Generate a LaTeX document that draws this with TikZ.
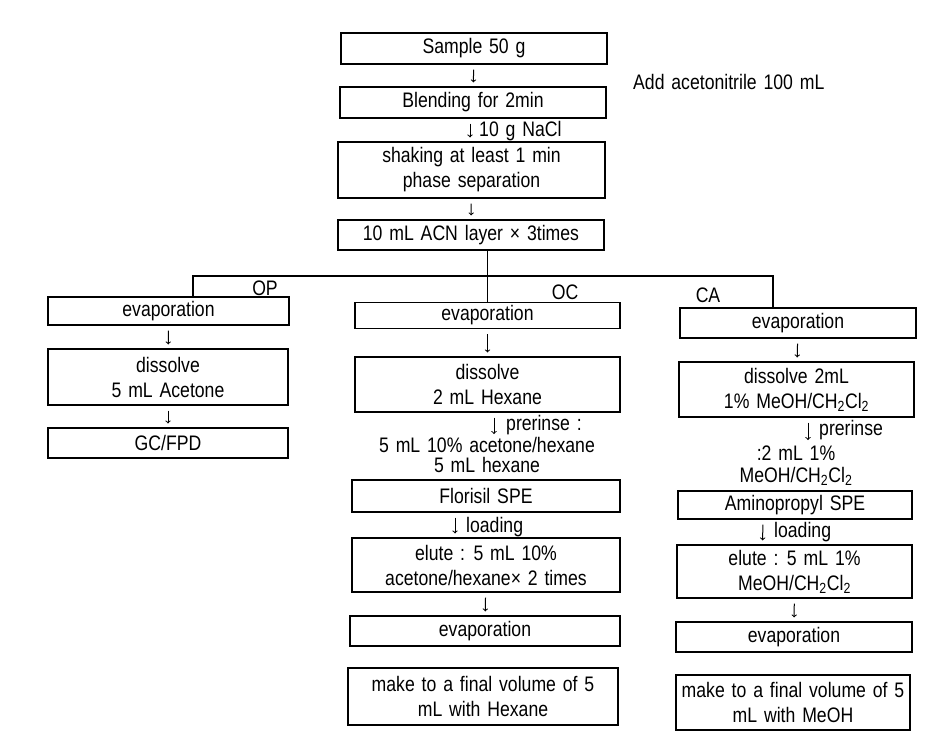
\documentclass[tikz,border=0pt]{standalone}
\usepackage{fontspec}
\setmainfont{Liberation Sans}[FakeStretch=0.84,WordSpace=1.4]
\usetikzlibrary{calc}

\begin{document}
\begin{tikzpicture}[x=1pt,y=-1pt]

                \tikzstyle{stage} = [draw, line width=1.2pt, align=center, inner sep=1pt, font=\fontsize{21}{25}\selectfont]
                \tikzstyle{note}  = [inner sep=1pt, align=center, font=\fontsize{21}{22}\selectfont]
                \tikzstyle{arr}   = [->, line width=1pt, shorten <=5pt, shorten >=4pt]
                \useasboundingbox (0,0) rectangle (947,753);
                \node [stage, minimum width=266, minimum height=31](sample) at (474,48.5) {Sample 50 g};
                \node [stage, minimum width=266, minimum height=31](blend) at (473,102.5) {Blending for 2min};
                \node [stage, minimum width=267, minimum height=56](shake) at (471.5,170) {shaking at least 1 min\\phase separation};
                \node [stage, minimum width=266, minimum height=30](acn) at (471,235) {10 mL ACN layer × 3times};
                \node [note, anchor=west](acetonitrile) at (632,82) {Add acetonitrile 100 mL};
                \node [note, anchor=west](nacl) at (478,131) {10 g NaCl};
                \node [stage, minimum width=241, minimum height=28](op-evap) at (168.5,311) {evaporation};
                \node [stage, minimum width=240, minimum height=56](op-dis) at (168,377) {dissolve\\5 mL Acetone};
                \node [stage, minimum width=240, minimum height=30](op-gc) at (168,443) {GC/FPD};
                \node [stage, minimum width=265, minimum height=26](oc-evap) at (487.5,315.5) {evaporation};
                \node [stage, minimum width=265, minimum height=55](oc-dis) at (487.5,384.5) {dissolve\\2 mL Hexane};
                \node [note, anchor=west](oc-pre) at (505,425) {prerinse :};
                \node [note, font=\fontsize{21}{20}\selectfont](oc-rinse) at (487,455) {5 mL 10\% acetone/hexane\\5 mL hexane};
                \node [stage, minimum width=268, minimum height=32](oc-spe) at (486,496) {Florisil SPE};
                \node [note, anchor=west](oc-load) at (465,527) {loading};
                \node [stage, minimum width=268, minimum height=54](oc-elute) at (486,565) {elute : 5 mL 10\%\\acetone/hexane× 2 times};
                \node [stage, minimum width=270, minimum height=30](oc-evap2) at (485,631) {evaporation};
                \node [stage, minimum width=270, minimum height=57](oc-final) at (483,696.5) {make to a final volume of 5\\mL with Hexane};
                \node [stage, minimum width=236, minimum height=30](ca-evap) at (798,323) {evaporation};
                \node [stage, minimum width=235, minimum height=55](ca-dis) at (796.5,389.5) {dissolve 2mL\\1\% MeOH/CH\textsubscript{2}Cl\textsubscript{2}};
                \node [note, anchor=west](ca-pre) at (818,430) {prerinse};
                \node [note](ca-rinse) at (796,466) {:2 mL 1\%\\MeOH/CH\textsubscript{2}Cl\textsubscript{2}};
                \node [stage, minimum width=234, minimum height=28](ca-spe) at (795,505) {Aminopropyl SPE};
                \node [note, anchor=west](ca-load) at (773,532) {loading};
                \node [stage, minimum width=235, minimum height=53](ca-elute) at (794.5,571.5) {elute : 5 mL 1\%\\MeOH/CH\textsubscript{2}Cl\textsubscript{2}};
                \node [stage, minimum width=236, minimum height=30](ca-evap2) at (794,637) {evaporation};
                \node [stage, minimum width=234, minimum height=55](ca-final) at (793,702.5) {make to a final volume of 5\\mL with MeOH};
                \node [note](op) at (265,288) {OP};
                \node [note](oc) at (565,292) {OC};
                \node [note](ca) at (708,295) {CA};
                \coordinate (op-top) at (193,276);
                \coordinate (ca-top) at (773,276);
                \coordinate (oc-tip) at (494,434);
                \coordinate (ca-tip) at (808,440);
                \draw [arr] (sample) -- (blend);
                \draw [arr] ([xshift=-3]blend.south) -- ([xshift=-1.5]shake.north);
                \draw [arr] (shake) -- (acn);
                \draw [line width=1.2pt] (acn.south -| oc-evap.north) -- (oc-evap.north);
                \draw [line width=1.2pt] (op-evap.north -| op-top) -- (op-top) -- (ca-top) -- (ca-evap.north -| ca-top);
                \draw [arr] (op-evap) -- (op-dis);
                \draw [arr] (op-dis) -- (op-gc);
                \draw [arr] (oc-evap) -- (oc-dis);
                \draw [arr, shorten >=0pt] (oc-dis.south -| oc-tip) -- (oc-tip);
                \draw [arr] ([xshift=-31]oc-spe.south) -- ([xshift=-31]oc-elute.north);
                \draw [arr] (oc-elute) -- (oc-evap2);
                \draw [arr] (ca-evap) -- (ca-dis);
                \draw [arr, shorten >=0pt] (ca-dis.south -| ca-tip) -- (ca-tip);
                \draw [arr] ([xshift=-32]ca-spe.south) -- ([xshift=-32]ca-elute.north);
                \draw [arr] (ca-elute) -- (ca-evap2);
\end{tikzpicture}
\end{document}
